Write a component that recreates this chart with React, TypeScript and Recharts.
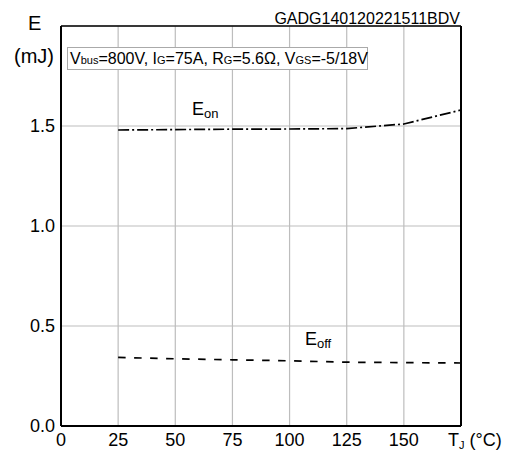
import React from "react";
import { LineChart, Line, XAxis, YAxis, CartesianGrid, ReferenceLine } from "recharts";

const temps = [25, 50, 75, 100, 125, 150, 175];
const eon = [1.48, 1.482, 1.484, 1.485, 1.487, 1.51, 1.58];
const eoff = [0.343, 0.336, 0.331, 0.326, 0.319, 0.317, 0.315];
const xTicks = [0, 25, 50, 75, 100, 125, 150];
const yTicks = [0, 0.5, 1.0, 1.5];

const data = temps.map((t, i) => ({ t, eon: eon[i], eoff: eoff[i] }));

const font = "'Liberation Sans', Arial, sans-serif";

export default function App() {
  const abs = (s: React.CSSProperties): React.CSSProperties => ({
    position: "absolute",
    fontFamily: font,
    color: "#000",
    whiteSpace: "nowrap",
    lineHeight: 1,
    ...s,
  });
  return (
    <div style={{ position: "absolute", left: 0, top: 0, width: 516, height: 456, background: "#fff", fontFamily: font }}>
      <LineChart width={516} height={456} data={data} margin={{ top: 26, right: 55, bottom: 0, left: 0 }}>
        <CartesianGrid stroke="#bdbdbd" strokeWidth={1.2} />
        <XAxis
          dataKey="t"
          type="number"
          domain={[0, 175]}
          ticks={xTicks}
          height={30}
          tickSize={0}
          tickMargin={7}
          axisLine={{ stroke: "#000", strokeWidth: 2 }}
          tick={{ fill: "#000", fontSize: 18, fontFamily: font }}
          interval={0}
        />
        <YAxis
          type="number"
          domain={[0, 2]}
          ticks={yTicks}
          width={61}
          tickSize={0}
          tickMargin={6}
          axisLine={{ stroke: "#000", strokeWidth: 2 }}
          tick={{ fill: "#000", fontSize: 18, fontFamily: font }}
          tickFormatter={(v: number) => v.toFixed(1)}
          interval={0}
        />
        <ReferenceLine y={2} stroke="#000" strokeWidth={1.5} />
        <ReferenceLine x={175} stroke="#000" strokeWidth={2} />
        <Line
          dataKey="eon"
          type="linear"
          stroke="#000"
          strokeWidth={1.7}
          strokeDasharray="11 3 2 3"
          dot={false}
          isAnimationActive={false}
        />
        <Line
          dataKey="eoff"
          type="linear"
          stroke="#000"
          strokeWidth={1.7}
          strokeDasharray="7.5 8.5"
          dot={false}
          isAnimationActive={false}
        />
      </LineChart>
      <div style={abs({ left: 28, top: 13, fontSize: 20 })}>E</div>
      <div style={abs({ left: 14, top: 46, fontSize: 20 })}>(mJ)</div>
      <div style={abs({ right: 56, top: 11, fontSize: 16 })}>GADG140120221511BDV</div>
      <div
        style={abs({
          left: 67,
          top: 47,
          width: 301,
          height: 23,
          border: "1px solid #aaa",
          background: "#fff",
          fontSize: 16,
          paddingLeft: 2,
          boxSizing: "border-box",
          display: "flex",
          alignItems: "center",
        })}
      >
        <span>
          V<span style={{ fontSize: 11 }}>bus</span>=800V, I<span style={{ fontSize: 11 }}>G</span>=75A, R
          <span style={{ fontSize: 11 }}>G</span>=5.6Ω, V<span style={{ fontSize: 11 }}>GS</span>=-5/18V
        </span>
      </div>
      <div style={abs({ left: 192, top: 100, fontSize: 18 })}>
        E<span style={{ fontSize: 13, verticalAlign: "-3px" }}>on</span>
      </div>
      <div style={abs({ left: 305, top: 330, fontSize: 18 })}>
        E<span style={{ fontSize: 13, verticalAlign: "-3px" }}>off</span>
      </div>
      <div style={abs({ left: 448, top: 431, fontSize: 18 })}>
        T<span style={{ fontSize: 11, verticalAlign: "-3px" }}>J</span> (°C)
      </div>
    </div>
  );
}
